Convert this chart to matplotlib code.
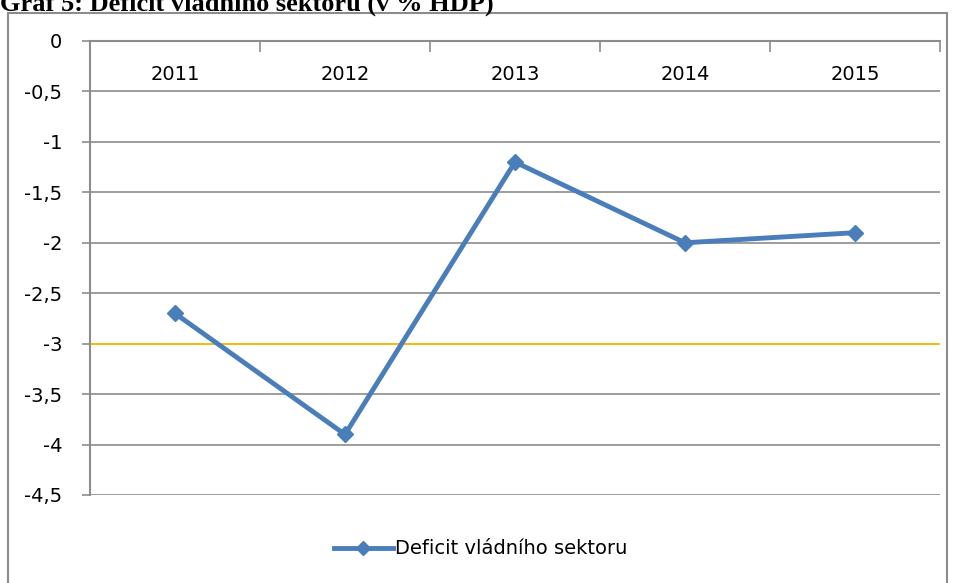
import matplotlib.pyplot as plt
from matplotlib.patches import Rectangle
from matplotlib.ticker import FuncFormatter

years = ['2011', '2012', '2013', '2014', '2015']
deficit = [-2.7, -3.9, -1.2, -2.0, -1.9]
limit_value = -3.0
y_ticks = [0, -0.5, -1, -1.5, -2, -2.5, -3, -3.5, -4, -4.5]
title = 'Graf 5: Deficit vládního sektoru (v % HDP)'
series_name = 'Deficit vládního sektoru'

grey = '#8c8c8c'
blue = '#4a7ebb'
font = 'DejaVu Sans'
fsize = 14

fig = plt.figure(figsize=(9.55, 5.83), dpi=100)
W, H = 955, 583

# outer chart frame, bottom edge runs off the image
fig.patches.append(Rectangle((8 / W, -0.05), (947 - 8) / W, 1.05 - 13 / H,
                             transform=fig.transFigure, fill=False,
                             edgecolor=grey, linewidth=1.5, clip_on=False))
fig.text(0.0, 1 - 11 / H, title, family='Liberation Serif', weight='bold',
         fontsize=19, va='baseline', ha='left')

ax = fig.add_axes([90 / W, 1 - 495 / H, 850 / W, 454 / H])
x = list(range(1, len(years) + 1))

ax.axhline(limit_value, color='#ffc000', linewidth=1.3, zorder=2)
ax.plot(x, deficit, color=blue, linewidth=3.5, marker='D', markersize=8.5,
        label=series_name, zorder=3)

ax.set_xlim(0.5, len(years) + 0.5)
ax.set_ylim(-4.5, 0)
ax.set_yticks(y_ticks)
ax.yaxis.set_major_formatter(FuncFormatter(lambda v, p: ('%g' % v).replace('.', ',')))
ax.yaxis.grid(True, color=grey, linewidth=1.2)
ax.set_axisbelow(True)

ax.set_xticks([])
ax.set_xticks([i + 0.5 for i in range(len(years) + 1)], minor=True)
ax.tick_params(axis='x', which='minor', direction='in', top=True, bottom=False,
               length=8, width=1.2, color=grey)
for xi, yr in zip(x, years):
    ax.text(xi, -0.33, yr, ha='center', va='center', fontsize=fsize, family=font)

ax.tick_params(axis='y', direction='out', length=6, width=1.2, color=grey,
               pad=14, labelsize=fsize)
for lab in ax.get_yticklabels():
    lab.set_family(font)

for side in ['right', 'bottom']:
    ax.spines[side].set_visible(False)
for side in ['left', 'top']:
    ax.spines[side].set_color(grey)
    ax.spines[side].set_linewidth(1.5)

ax.legend(loc='center', bbox_to_anchor=(481 / W, 34 / H),
          bbox_transform=fig.transFigure, frameon=False,
          handlelength=3.0, handletextpad=0.15, markerscale=0.8,
          prop={'family': font, 'size': fsize})

fig.savefig('out.png', dpi=100)
